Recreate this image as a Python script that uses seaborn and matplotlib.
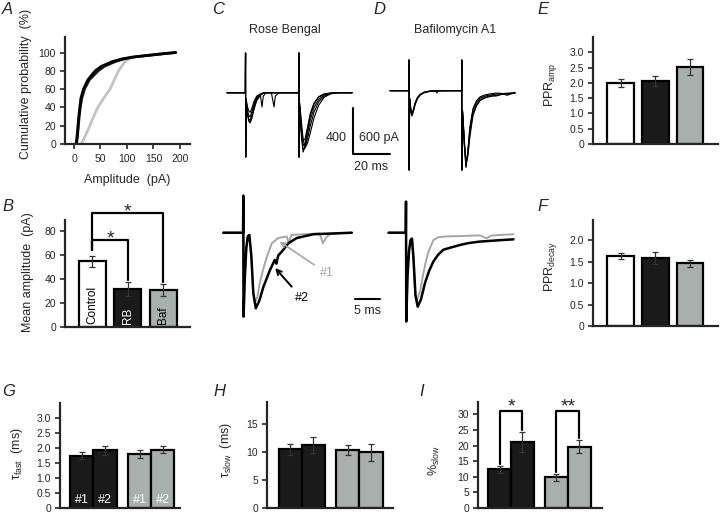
import pandas as pd
import seaborn as sns
import matplotlib.pyplot as plt

# ---------------------------------------------------------------------------- #
#                                     Datos                                    #
# ---------------------------------------------------------------------------- #
# A: distribucion acumulada de amplitudes (pA)
cum_pct = [0, 5, 10, 20, 30, 40, 50, 60, 70, 80, 85, 90, 93, 95, 97, 99, 100]
ctrl_amp = [4, 5, 6, 7.5, 9, 11, 13, 18, 26, 40, 52, 72, 90, 110, 140, 172, 192]
rb_amp = [5, 6, 7, 8.5, 10, 12, 15, 20, 29, 46, 58, 78, 95, 112, 145, 175, 192]
baf_amp = [14, 18, 22, 30, 37, 45, 56, 68, 76, 84, 90, 96, 104, 112, 140, 172, 192]

# B, E, F: tres condiciones
cond = ["Control", "RB", "Baf"]
b_mean = [54.5, 31.5, 30.5]
b_sem = [4.5, 6.0, 5.0]
e_mean = [2.00, 2.06, 2.52]
e_sem = [0.13, 0.17, 0.25]
f_mean = [1.63, 1.59, 1.46]
f_sem = [0.06, 0.14, 0.08]

# G, H, I: componentes #1 / #2
drug = ["RB", "RB", "Baf", "Baf"]
resp = ["#1", "#2", "#1", "#2"]
g_mean = [1.75, 1.92, 1.81, 1.94]
g_sem = [0.13, 0.14, 0.13, 0.12]
h_mean = [10.5, 11.3, 10.4, 10.0]
h_sem = [1.0, 1.5, 0.9, 1.5]
i_mean = [12.4, 21.3, 9.9, 19.7]
i_sem = [1.1, 3.2, 1.1, 2.2]

# C (arriba): barridos superpuestos, tiempo (ms) y corriente (pA)
c1_t = [-10, -0.1, 0, 0.05, 0.3, 1.0, 1.8, 2.5, 3.3, 4.5, 6, 8, 8.9, 9.6, 11, 14, 15.4, 16.1, 18, 24,
        28.8, 28.9, 28.95, 29.3, 30.2, 31.1, 32.2, 33.5, 35, 37, 39.5, 42.5, 46, 50, 57.6]
c1_sweeps = [
    [0, 0, 345, -559, -80, -180, -250, -263, -220, -140, -60, -20, -10, -5, 0, 0, 0, 0, 0, 0,
     0, 345, -559, -150, -380, -516, -470, -360, -240, -130, -60, -20, -5, 0, 0],
    [0, 0, 345, -559, -60, -150, -200, -210, -170, -100, -40, -15, -124, -30, 0, 0, 0, 0, 0, 0,
     0, 345, -559, -120, -330, -460, -440, -330, -200, -100, -40, -12, -3, 0, 0],
    [0, 0, 345, -559, -70, -170, -230, -240, -200, -120, -50, -15, -8, -4, 0, -2, -124, -30, 0, 0,
     0, 345, -559, -130, -350, -490, -480, -400, -290, -170, -80, -30, -8, 0, 0],
    [0, 0, 345, -559, -50, -120, -160, -170, -140, -80, -30, -10, -4, -2, 0, 0, 0, 0, 0, 0,
     0, 345, -559, -110, -300, -420, -400, -300, -180, -90, -35, -10, -2, 0, 0],
    [0, 0, 345, -559, -70, -190, -240, -255, -230, -150, -70, -25, -10, -5, 0, 0, 0, 0, 0, 0,
     0, 345, -559, -90, -250, -400, -480, -440, -350, -220, -110, -40, -10, 0, 0],
]

# D (arriba)
d1_t = [-10.3, -0.1, 0, 0.05, 0.3, 0.9, 1.5, 2.3, 3.3, 4.5, 5.9, 8, 11, 14.6, 15.1, 15.6, 20,
        28.4, 28.5, 28.55, 29.0, 29.9, 30.8, 31.8, 32.9, 34.6, 36.5, 38.4, 41, 44, 47, 50, 53, 57.3]
d1_sweeps = [
    [0, 0, 400, -1034, -100, -250, -317, -260, -170, -100, -56, -25, -8, -3, -30, -3, 0,
     0, 400, -1034, -300, -700, -990, -800, -500, -252, -150, -95, -70, -55, -45, -38, -32, -26],
    [0, 0, 400, -1034, -90, -220, -290, -250, -160, -90, -50, -20, -5, 0, 0, 0, 0,
     0, 400, -1034, -280, -680, -960, -820, -540, -290, -180, -115, -85, -65, -70, -45, -40, -30],
    [0, 0, 400, -1034, -110, -270, -330, -280, -180, -110, -60, -28, -10, -4, -2, 0, 0,
     0, 400, -1034, -320, -720, -1000, -780, -470, -230, -130, -80, -55, -40, -30, -35, -60, -20],
    [0, 0, 400, -1034, -95, -240, -305, -255, -165, -95, -52, -22, -6, -2, 0, -1, 0,
     0, 400, -1034, -260, -650, -940, -860, -600, -320, -200, -130, -95, -75, -60, -50, -42, -35],
]

# C / D (abajo): respuestas normalizadas #1 (gris) y #2 (negro)
c2_black_t = [-4.0, -0.05, 0, 0.05, 0.3, 0.6, 0.9, 1.2, 1.6, 2.0, 2.5, 3.2, 4.0, 5.3, 6.0, 6.3,
              6.6, 7.0, 7.7, 9.0, 10.7, 14.0, 21.7]
c2_black = [0, 0, 0.49, -1.11, -0.6, -0.2, -0.05, -0.03, -0.3, -0.8, -1.0, -0.9, -0.72, -0.5,
            -0.40, -0.36, -0.41, -0.30, -0.25, -0.14, -0.07, -0.02, 0]
c2_gray_t = [-4.0, -0.05, 0, 0.05, 0.3, 0.6, 0.9, 1.2, 1.6, 1.9, 2.3, 2.8, 3.3, 4.0, 4.7, 5.7,
             7.0, 8.7, 9.1, 9.6, 12.0, 15.3, 15.9, 16.6, 17.3, 21.7]
c2_gray = [0, 0, 0.49, -1.11, -0.6, -0.2, -0.05, -0.03, -0.3, -0.7, -0.93, -0.85, -0.665, -0.48,
           -0.32, -0.14, -0.07, -0.05, -0.14, -0.03, -0.02, -0.01, -0.14, -0.06, -0.02, 0]
d2_black_t = [-3.5, -0.05, 0, 0.05, 0.3, 0.6, 0.9, 1.2, 1.5, 1.9, 2.34, 3.0, 3.8, 4.6, 5.47, 6.4,
              7.47, 9.0, 10.8, 12.5, 14.8, 17, 19, 21.5]
d2_black = [0, 0, 0.42, -1.2, -0.6, -0.25, -0.1, -0.08, -0.35, -0.85, -1.0, -0.9, -0.68, -0.52,
            -0.39, -0.30, -0.23, -0.20, -0.166, -0.14, -0.12, -0.11, -0.10, -0.09]
d2_gray_t = [-3.5, -0.05, 0, 0.05, 0.3, 0.6, 0.9, 1.2, 1.5, 1.8, 2.14, 2.8, 3.47, 4.0, 4.47, 5.47,
             6.5, 8.1, 11, 14.8, 16.1, 17.0, 19, 21.5]
d2_gray = [0, 0, 0.42, -1.2, -0.6, -0.25, -0.1, -0.08, -0.35, -0.8, -0.91, -0.8, -0.55, -0.38,
           -0.26, -0.10, -0.06, -0.05, -0.045, -0.036, -0.076, -0.04, -0.03, -0.02]

# ---------------------------------------------------------------------------- #
#                                    Estilo                                    #
# ---------------------------------------------------------------------------- #
sns.set_style("ticks")
plt.rcParams["font.family"] = ["Liberation Sans", "DejaVu Sans"]
plt.rcParams["mathtext.fontset"] = "custom"
plt.rcParams["mathtext.rm"] = "Liberation Sans"
plt.rcParams["mathtext.it"] = "Liberation Sans:italic"

BLACK = "#1a1a1a"
GRAY = "#a8b0ad"
TRACE_GRAY = "#a6a6a6"
colores = {"Control": "white", "RB": BLACK, "Baf": GRAY}
TICK = 7.5
LABEL = 9

W, H = 720, 513
fig = plt.figure(figsize=(W / 100, H / 100), dpi=100)


def ejes(x0, y0, x1, y1):
    # ejes a partir de coordenadas en pixeles de la figura
    return fig.add_axes([x0 / W, 1 - y1 / H, (x1 - x0) / W, (y1 - y0) / H])


def formato(ax, ylim, yticks, ylabels, xlim, ylabel, lx, ly):
    ax.set_xlim(*xlim)
    ax.set_ylim(*ylim)
    ax.set_yticks(yticks)
    ax.set_yticklabels(ylabels, fontsize=TICK)
    ax.set_xticks([])
    ax.set_xlabel("")
    ax.set_ylabel(ylabel, fontsize=LABEL)
    ax.yaxis.set_label_coords(lx, ly)
    sns.despine(ax=ax)
    for s in ["left", "bottom"]:
        ax.spines[s].set_linewidth(1.6)
    ax.tick_params(axis="y", length=3.5, width=1.2, pad=3)
    ax.patch.set_alpha(0)


def barras3(ax, medias, errores):
    df = pd.DataFrame({"cond": cond, "val": medias})
    sns.barplot(df, x="cond", y="val", hue="cond", palette=colores, saturation=1, legend=False,
                width=0.76, edgecolor="black", linewidth=1.6, errorbar=None, ax=ax)
    for p, m, s in zip(ax.patches, medias, errores):
        ax.errorbar(p.get_x() + p.get_width() / 2, m, yerr=s, color="#333333", lw=0.9,
                    capsize=2, capthick=0.9)


def barras_pares(ax, medias, errores):
    df = pd.DataFrame({"drug": drug, "resp": resp, "val": medias, "err": errores})
    sns.barplot(df, x="drug", y="val", hue="resp", palette=[BLACK, BLACK], saturation=1, legend=False,
                width=0.8, edgecolor="black", linewidth=1.6, errorbar=None, ax=ax)
    centros = {}
    for h, cont in zip(["#1", "#2"], ax.containers):
        for g, bar in zip(["RB", "Baf"], cont):
            bar.set_facecolor(colores[g])
            fila = df[(df["drug"] == g) & (df["resp"] == h)].iloc[0]
            xc = bar.get_x() + bar.get_width() / 2
            centros[(g, h)] = (xc, fila["val"], fila["err"])
            ax.errorbar(xc, fila["val"], yerr=fila["err"], color="#333333", lw=0.9, capsize=2,
                        capthick=0.9)
    return centros


def corchete(ax, x0, x1, y, y0, y1, texto, dy):
    ax.plot([x0, x0, x1, x1], [y0, y, y, y1], color="black", lw=1.6, clip_on=False)
    ax.text((x0 + x1) / 2, y + dy, texto, ha="center", va="center", fontsize=14)


# ---------------------------------------------------------------------------- #
#                                  A: acumulada                                #
# ---------------------------------------------------------------------------- #
axA = ejes(65, 37, 190, 144)
sns.lineplot(x=baf_amp, y=cum_pct, color="#c4c4c4", lw=2.0, sort=False, estimator=None, ax=axA)
sns.lineplot(x=rb_amp, y=cum_pct, color="#202020", lw=1.8, sort=False, estimator=None, ax=axA)
sns.lineplot(x=ctrl_amp, y=cum_pct, color="black", lw=2.0, sort=False, estimator=None, ax=axA)
formato(axA, (0, 117), range(0, 101, 20), [str(v) for v in range(0, 101, 20)], (-17, 219),
        "Cumulative probability  (%)", -0.26, 0.56)
axA.set_xticks(range(0, 201, 50))
axA.set_xticklabels([str(v) for v in range(0, 201, 50)], fontsize=TICK)
axA.tick_params(axis="x", length=3.5, width=1.2, pad=4)
axA.set_xlabel("Amplitude  (pA)", fontsize=LABEL)
axA.xaxis.set_label_coords(0.5, -0.28)

# ---------------------------------------------------------------------------- #
#                                B: amplitud media                             #
# ---------------------------------------------------------------------------- #
axB = ejes(65, 220, 190, 327)
barras3(axB, b_mean, b_sem)
formato(axB, (0, 89), range(0, 81, 20), [str(v) for v in range(0, 81, 20)], (-0.77, 2.75),
        "Mean amplitude  (pA)", -0.25, 0.51)
xs = [p.get_x() + p.get_width() / 2 for p in axB.patches]
for x, nombre, c in zip(xs, cond, ["black", "white", "black"]):
    axB.text(x, 2.5, nombre, rotation=90, ha="center", va="bottom", color=c, fontsize=8.5)
corchete(axB, xs[0], xs[2], 95, 64, b_mean[2] + b_sem[2] + 2, "*", 1)
corchete(axB, xs[0], xs[1], 72, 64, b_mean[1] + b_sem[1] + 2, "*", 1)

# ---------------------------------------------------------------------------- #
#                                   E, F: PPR                                  #
# ---------------------------------------------------------------------------- #
axE = ejes(593, 37, 718, 144)
barras3(axE, e_mean, e_sem)
formato(axE, (0, 3.5), [0, 0.5, 1, 1.5, 2, 2.5, 3], ["0", "0.5", "1.0", "1.5", "2.0", "2.5", "3.0"],
        (-0.79, 2.8), "PPR$_{\\mathrm{amp}}$", -0.27, 0.55)

axF = ejes(593, 220, 718, 326)
barras3(axF, f_mean, f_sem)
formato(axF, (0, 2.47), [0, 0.5, 1, 1.5, 2], ["0", "0.5", "1.0", "1.5", "2.0"],
        (-0.79, 2.8), "PPR$_{\\mathrm{decay}}$", -0.27, 0.56)

# ---------------------------------------------------------------------------- #
#                               G, H, I: cineticas                             #
# ---------------------------------------------------------------------------- #
axG = ejes(60, 403, 180, 508)
cg = barras_pares(axG, g_mean, g_sem)
formato(axG, (0, 3.5), [0, 0.5, 1, 1.5, 2, 2.5, 3], ["0", "0.5", "1.0", "1.5", "2.0", "2.5", "3.0"],
        (-0.58, 1.5), "τ$_{\\mathrm{fast}}$  (ms)", -0.29, 0.52)
for (g, h), (xc, m, s) in cg.items():
    axG.text(xc, 0.27, h, ha="center", va="center", color="white", fontsize=9)

axH = ejes(267, 402, 393, 508)
barras_pares(axH, h_mean, h_sem)
formato(axH, (0, 19), [0, 5, 10, 15], ["0", "5", "10", "15"], (-0.6, 1.58),
        "τ$_{\\mathrm{slow}}$  (ms)", -0.26, 0.55)

axI = ejes(478, 402, 602, 508)
ci = barras_pares(axI, i_mean, i_sem)
formato(axI, (0, 34), range(0, 31, 5), [str(v) for v in range(0, 31, 5)], (-0.58, 1.6),
        "%$_{\\mathrm{slow}}$", -0.29, 0.45)
for g, txt in [("RB", "*"), ("Baf", "**")]:
    x1, m1, s1 = ci[(g, "#1")]
    x2, m2, s2 = ci[(g, "#2")]
    corchete(axI, x1, x2, 31, m1 + s1 + 0.5, m2 + s2 + 0.5, txt, 1.5)

# ---------------------------------------------------------------------------- #
#                                C, D: registros                               #
# ---------------------------------------------------------------------------- #
axC1 = ejes(220, 45, 400, 180)
for y in c1_sweeps:
    sns.lineplot(x=c1_t, y=y, color="black", lw=0.8, sort=False, estimator=None, ax=axC1)
axC1.set_xlim(-13.8, 83.5)
axC1.set_ylim(-759, 415)
axC1.axis("off")
# barra de escala: 400 pA (C) / 600 pA (D), 20 ms
SB_T, SB_I, SB_MS, SB_PA = 58.1, -533, 20, 400
axC1.plot([SB_T, SB_T, SB_T + SB_MS], [SB_I + SB_PA, SB_I, SB_I], color="black", lw=1.5, clip_on=False)
axC1.text(SB_T - 3.5, SB_I + SB_PA * 0.35, "400", ha="right", va="center", fontsize=LABEL)
axC1.text(SB_T + 3, SB_I + SB_PA * 0.35, "600 pA", ha="left", va="center", fontsize=LABEL)
axC1.text(SB_T + SB_MS / 2, SB_I - 60, "20 ms", ha="center", va="top", fontsize=LABEL)

axD1 = ejes(380, 45, 540, 180)
for y in d1_sweeps:
    sns.lineplot(x=d1_t, y=y, color="black", lw=0.8, sort=False, estimator=None, ax=axD1)
axD1.set_xlim(-15.7, 70.8)
axD1.set_ylim(-1164, 596)
axD1.axis("off")

axC2 = ejes(220, 190, 400, 330)
sns.lineplot(x=c2_gray_t, y=c2_gray, color=TRACE_GRAY, lw=1.4, sort=False, estimator=None, ax=axC2)
sns.lineplot(x=c2_black_t, y=c2_black, color="black", lw=1.8, sort=False, estimator=None, ax=axC2)
axC2.set_xlim(-4.66, 31.34)
axC2.set_ylim(-1.287, 0.565)
axC2.axis("off")
axC2.plot([22.3, 27.3], [-0.877, -0.877], color="black", lw=1.5)
axC2.text(24.8, -0.96, "5 ms", ha="center", va="top", fontsize=LABEL)
axC2.annotate("#1", xy=(6.8, -0.097), xytext=(16.7, -0.537), color=TRACE_GRAY, fontsize=LABEL,
              ha="center", va="center", arrowprops=dict(arrowstyle="->", color=TRACE_GRAY, lw=1.2))
axC2.annotate("#2", xy=(6.0, -0.44), xytext=(11.7, -0.864), color="black", fontsize=LABEL,
              ha="center", va="center", arrowprops=dict(arrowstyle="->", color="black", lw=1.4))

axD2 = ejes(380, 190, 540, 330)
sns.lineplot(x=d2_gray_t, y=d2_gray, color=TRACE_GRAY, lw=1.4, sort=False, estimator=None, ax=axD2)
sns.lineplot(x=d2_black_t, y=d2_black, color="black", lw=1.8, sort=False, estimator=None, ax=axD2)
axD2.set_xlim(-5.2, 26.8)
axD2.set_ylim(-1.315, 0.577)
axD2.axis("off")

# ---------------------------------------------------------------------------- #
#                               Titulos y letras                               #
# ---------------------------------------------------------------------------- #
fig.text(285 / W, 1 - 30 / H, "Rose Bengal", ha="center", va="center", fontsize=LABEL)
fig.text(455 / W, 1 - 30 / H, "Bafilomycin A1", ha="center", va="center", fontsize=LABEL)
for letra, x, y in [("A", 2, 10), ("B", 2, 207), ("C", 212, 10), ("D", 373, 10), ("E", 537, 10),
                    ("F", 537, 207), ("G", 2, 392), ("H", 213, 392), ("I", 419, 392)]:
    fig.text(x / W, 1 - y / H, letra, ha="left", va="center", fontsize=12, style="italic")

fig.savefig("out.png", dpi=100)
